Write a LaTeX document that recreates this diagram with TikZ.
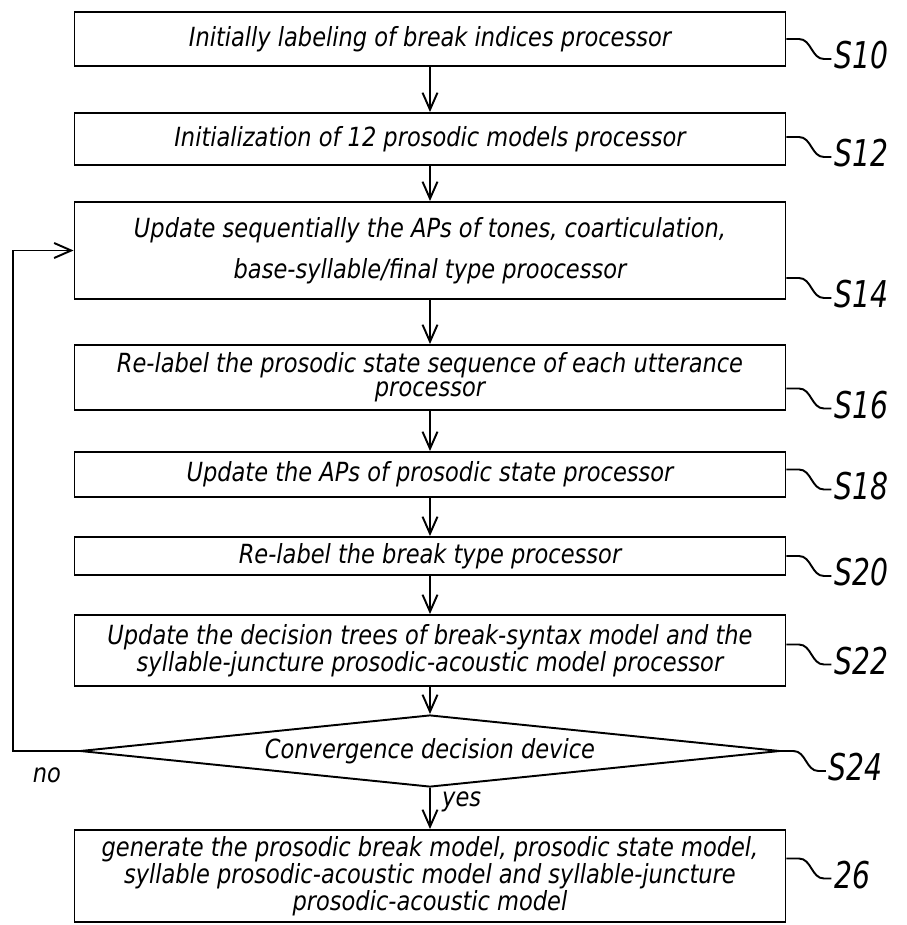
\documentclass[tikz,border=0pt]{standalone}
\usepackage{fontspec}
\setmainfont{DejaVu Sans Condensed}[FakeStretch=0.95]
\newfontfamily\repfont{DejaVu Sans Condensed}[FakeStretch=0.85]
\usepackage{tikz}
\usetikzlibrary{shapes.geometric}
\usetikzlibrary{arrows.meta}
\usetikzlibrary{calc}
\usetikzlibrary{math}

\tikzset{
  trait/.style={line width=1.1pt},
  fleche/.style={trait, -{Straight Barb[length=0.34cm, width=0.3cm, line width=1.1pt]}},
  boite/.style={trait, draw, minimum width=14.22cm, inner sep=2pt, align=center,
    font=\itshape\fontsize{15}{13.5}\selectfont},
  losange/.style={trait, draw, shape=diamond, aspect=9.72, minimum width=14cm, minimum height=1.44cm,
    inner sep=0pt, font=\itshape\fontsize{15}{13.5}\selectfont},
  repere/.style={right, inner sep=1pt, yshift=2pt, font=\repfont\itshape\fontsize{21}{21}\selectfont},
  petit/.style={font=\itshape\fontsize{15}{13.5}\selectfont},
}

\begin{document}
\begin{tikzpicture}
  \useasboundingbox (0,0) rectangle (18.14,-18.5);
  \tikzmath{\xm = 8.6;}
  % les etapes
  \node[boite, minimum height=1.08cm] (s10) at (\xm,-0.78) {Initially labeling of break indices processor};
  \node[boite, minimum height=1.04cm] (s12) at (\xm,-2.78) {Initialization of 12 prosodic models processor};
  \node[boite, minimum height=1.94cm] (s14) at (\xm,-5.01) {Update sequentially the APs of tones, coarticulation,\\[8pt] base-syllable/final type proocessor};
  \node[boite, minimum height=1.3cm] (s16) at (\xm,-7.55) {Re-label the prosodic state sequence of each utterance\\ processor};
  \node[boite, minimum height=0.9cm] (s18) at (\xm,-9.49) {Update the APs of prosodic state processor};
  \node[boite, minimum height=0.76cm] (s20) at (\xm,-11.12) {Re-label the break type processor};
  \node[boite, minimum height=1.42cm] (s22) at (\xm,-13.01) {Update the decision trees of break-syntax model and the\\ syllable-juncture prosodic-acoustic model processor};
  \node[losange] (dia) at (\xm,-15.02) {Convergence decision device};
  \node[boite, minimum height=1.84cm] (s26) at (\xm,-17.52) {generate the prosodic break model, prosodic state model,\\ syllable prosodic-acoustic model and syllable-juncture\\ prosodic-acoustic model};

  % fleches
  \foreach \u/\v in {s10/s12, s12/s14, s14/s16, s16/s18, s18/s20, s20/s22, s22/dia, dia/s26} {
    \draw[fleche] (\u.south) -- (\v.north);
  }

  % retour
  \coordinate (coin) at (0.26,-15.02);
  \draw[fleche] (dia.west) -- (coin) |- (s14.west);
  \node[petit] (non) at (0.94,-15.5) {no};
  \node[petit, right] (oui) at (8.72,-16.04) {yes};

  % reperes
  \foreach \n/\d/\t in {s10/0/S10, s12/0.04/S12, s14/-0.55/S14, s16/-0.22/S16, s18/0.1/S18,
                        s20/0/S20, s22/0.12/S22, dia/0/S24, s26/0.35/26} {
    \draw[trait] ($(\n.east)+(0,\d)$) -- ++(0.25,0) to[out=0, in=180] ++(0.5,-0.4) -- ++(0.15,0)
      node[repere] (r\n) {\t};
  }
\end{tikzpicture}
\end{document}
